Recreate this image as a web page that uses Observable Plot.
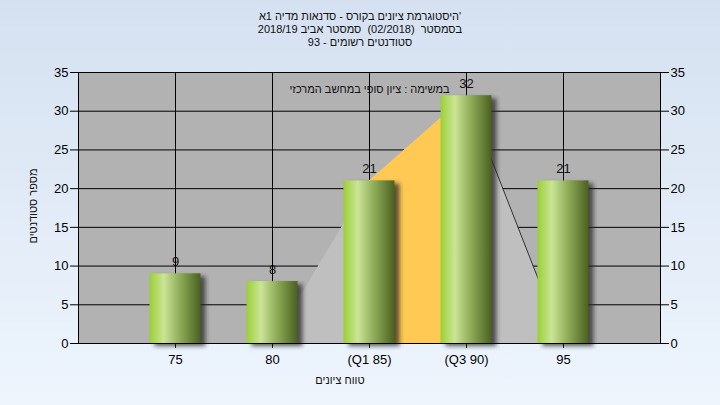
<!DOCTYPE html>
<html><head><meta charset="utf-8">
<script src="https://cdn.jsdelivr.net/npm/d3@7"></script>
<script src="https://cdn.jsdelivr.net/npm/@observablehq/plot@0.6"></script>
<style>
html,body{margin:0;padding:0;}
body{width:720px;height:405px;overflow:hidden;background:linear-gradient(#d5e1f1,#eef5fd);font-family:"Liberation Sans",Arial,sans-serif;position:relative;}
#title{position:absolute;top:10px;left:0;width:720px;text-align:center;font-size:11px;line-height:13px;color:#111;white-space:pre;}
#chart{position:absolute;top:50px;left:0;}
#xlabel{position:absolute;top:374px;left:240px;width:200px;text-align:center;font-size:11px;color:#111;}
#ylabel{position:absolute;left:-67px;top:200px;width:200px;text-align:center;font-size:11px;color:#111;transform:rotate(-90deg);}
</style></head><body>
<div id="title"></div>
<div id="chart"></div>
<div id="xlabel"></div>
<div id="ylabel"></div>
<script>
const titleLines = ["היסטוגרמת ציונים בקורס - סדנאות מדיה 1א'", "בסמסטר  (02/2018)  סמסטר אביב 2018/19", "סטודנטים רשומים - 93"];
const xTitle = "טווח ציונים";
const yTitle = "מספר סטודנטים";
const annotation = "במשימה : ציון סופי במחשב המרכזי";
const grades = [75, 80, 85, 90, 95];
const tickLabels = ["75", "80", "(Q1 85)", "(Q3 90)", "95"];
const counts = [9, 8, 21, 32, 21];
const curveValues = [0, 0, 21, 32, 0];
const yTicks = [0, 5, 10, 15, 20, 25, 30, 35];

const titleEl = document.getElementById("title");
titleLines.forEach(t => { const d = document.createElement("div"); d.textContent = t; titleEl.appendChild(d); });
document.getElementById("xlabel").textContent = xTitle;
document.getElementById("ylabel").textContent = yTitle;

const barData = grades.map((g, i) => ({grade: g, count: counts[i]}));
const curveData = grades.map((g, i) => ({grade: g, v: curveValues[i]}));

const chart = Plot.plot({
  width: 720, height: 355,
  marginLeft: 78, marginRight: 60, marginTop: 22, marginBottom: 62,
  style: {background: "transparent", fontFamily: "Liberation Sans, Arial, sans-serif", fontSize: "13px", color: "#000", overflow: "visible"},
  x: {type: "linear", domain: [70, 100], ticks: grades, tickFormat: d => tickLabels[grades.indexOf(d)], tickSize: 5, tickPadding: 6, label: null},
  y: {domain: [0, 35], ticks: yTicks, axis: "both", tickSize: 8, tickPadding: 2, label: null},
  marks: [
    Plot.frame({fill: "#b2b2b2", stroke: null}),
    Plot.ruleY(yTicks, {stroke: "#000"}),
    Plot.ruleX(grades, {stroke: "#000"}),
    Plot.areaY(curveData, {x: "grade", y: "v", fill: "#bfbfbf"}),
    Plot.areaY(curveData.filter(d => d.grade >= 85 && d.grade <= 90), {x: "grade", y: "v", fill: "#ffc954"}),
    Plot.line(curveData.filter(d => d.grade >= 90), {x: "grade", y: "v", stroke: "#333", strokeWidth: 1}),
    Plot.rectY(barData, {x1: d => d.grade - 2.5, x2: d => d.grade + 2.5, y: "count", insetLeft: 23, insetRight: 23, fill: "#2a2a2a", fillOpacity: 0.75, dx: 5, dy: 3}),
    Plot.rectY(barData, {x1: d => d.grade - 2.5, x2: d => d.grade + 2.5, y: "count", insetLeft: 23, insetRight: 23, fill: "url(#barGrad)"}),
    Plot.text(barData, {x: "grade", y: "count", text: d => String(d.count), dy: -12, fill: "#111", fontSize: 13}),
    Plot.text([annotation], {frameAnchor: "top", dy: 13, text: d => d, fill: "#111", fontSize: 11}),
    Plot.frame({stroke: "#000"})
  ]
});

const svg = d3.select(chart);
const defs = svg.insert("defs", ":first-child");
const grad = defs.append("linearGradient").attr("id", "barGrad").attr("x1", 0).attr("x2", 1).attr("y1", 0).attr("y2", 0);
[[0, "#9ccf36"], [0.28, "#cae596"], [0.6, "#8eab58"], [1, "#4a6120"]].forEach(([o, c]) => grad.append("stop").attr("offset", o).attr("stop-color", c));
defs.append("filter").attr("id", "blur").attr("x", "-20%").attr("y", "-20%").attr("width", "140%").attr("height", "140%")
  .append("feGaussianBlur").attr("stdDeviation", 2);
const rectGroups = chart.querySelectorAll('g[aria-label="rect"]');
if (rectGroups.length) rectGroups[0].setAttribute("filter", "url(#blur)");
document.getElementById("chart").appendChild(chart);
</script>
</body></html>
